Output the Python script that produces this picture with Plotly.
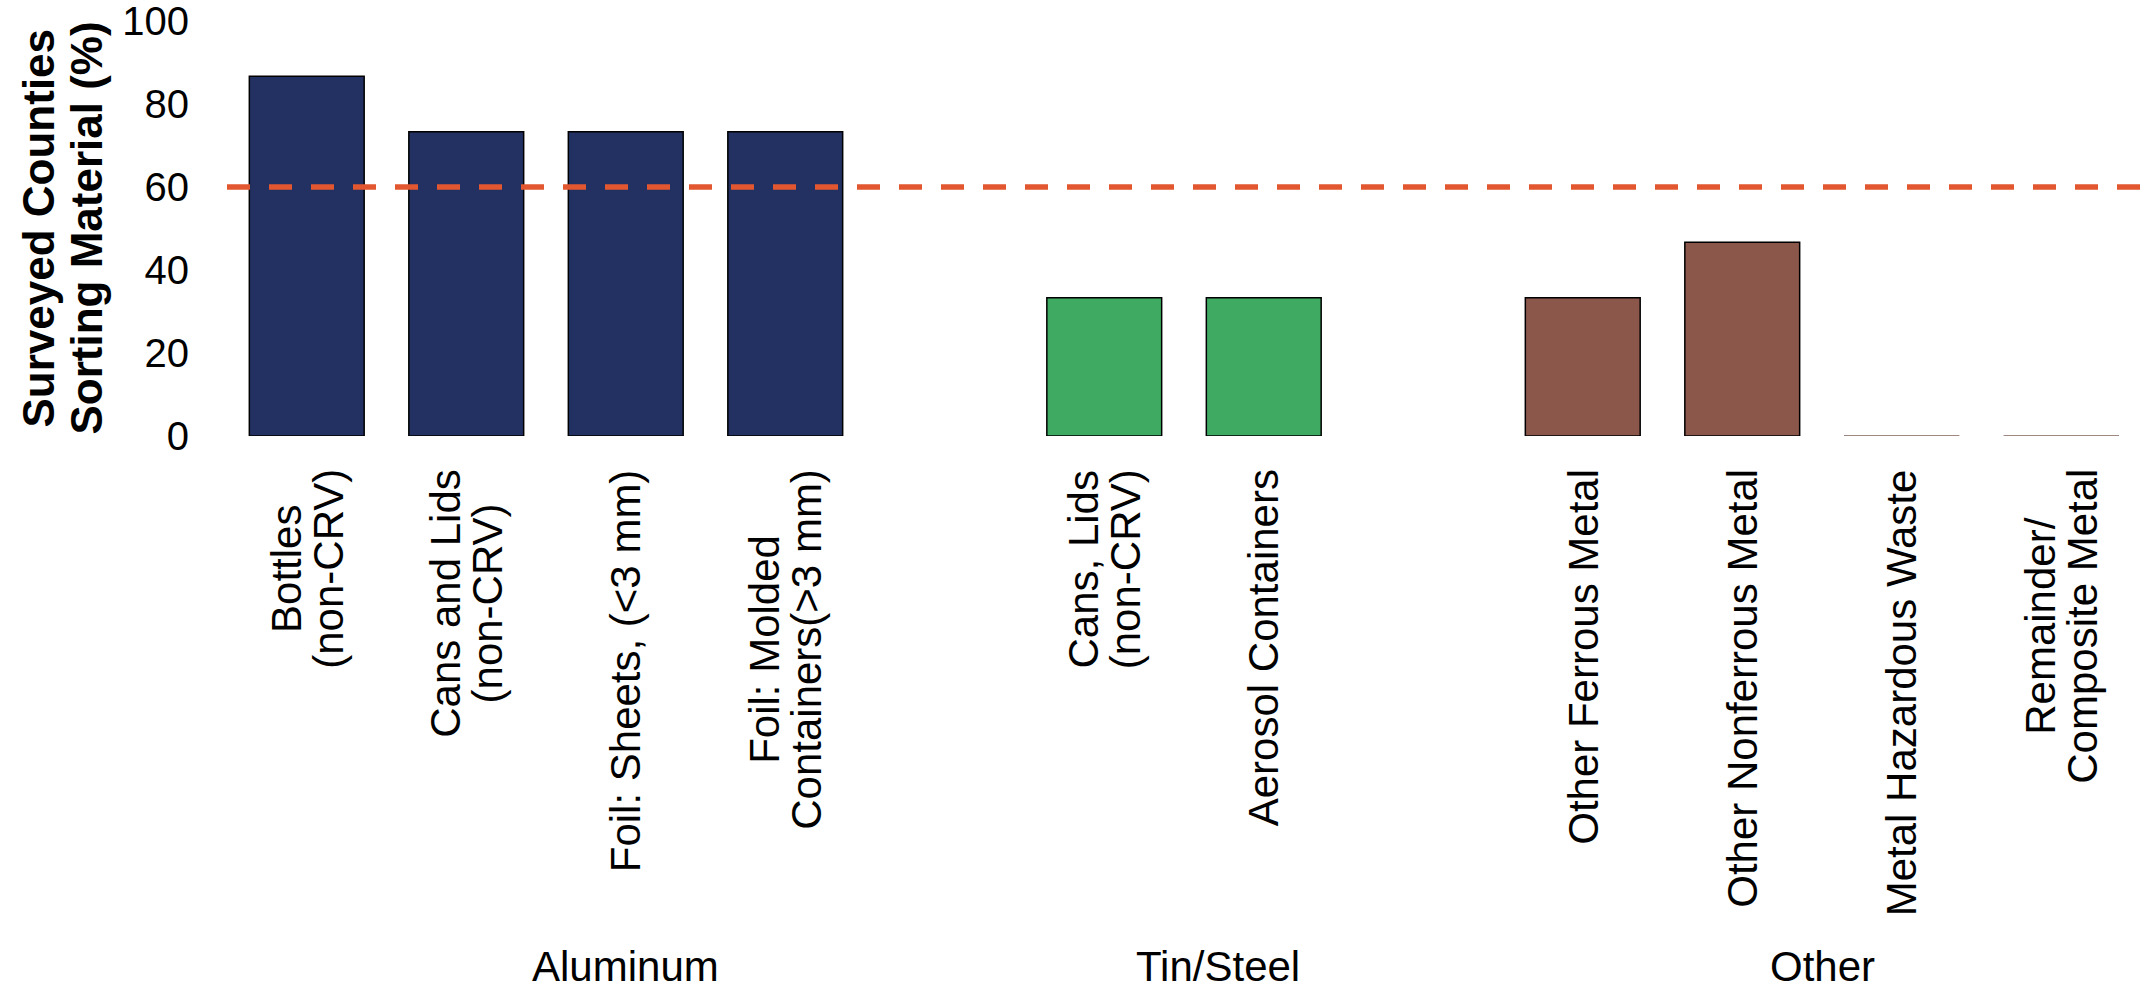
import plotly.graph_objects as go

# ---------------- data ----------------
groups = ["Aluminum", "Tin/Steel", "Other"]
aluminum_labels = [["Bottles", "(non-CRV)"], ["Cans and Lids", "(non-CRV)"],
                   ["Foil: Sheets, (&lt;3 mm)"], ["Foil: Molded", "Containers(&gt;3 mm)"]]
aluminum_values = [86.7, 73.3, 73.3, 73.3]
tin_labels = [["Cans, Lids", "(non-CRV)"], ["Aerosol Containers"]]
tin_values = [33.3, 33.3]
other_labels = [["Other Ferrous Metal"], ["Other Nonferrous Metal"],
                ["Metal Hazardous Waste"], ["Remainder/", "Composite Metal"]]
other_values = [33.3, 46.7, 0, 0]
threshold = 60
y_ticks = [0, 20, 40, 60, 80, 100]
y_title_lines = ["Surveyed Counties", "Sorting Material (%)"]

# ---------------- style ----------------
group_colors = ["#223161", "#3EAA62", "#8B574B"]
group_label_x = [2.0, 5.71, 9.5]   # text placement (data units)
FONT = "Liberation Sans, Arial, sans-serif"
W, H = 2141, 994
ML, MR, MT, MB = 227, 0, 21, 558
BAR_W = 0.72
LABEL_SIZE = 42
LINE_PITCH = 42  # px between label lines

group_labels = [aluminum_labels, tin_labels, other_labels]
group_values = [aluminum_values, tin_values, other_values]

xs, ys, labels, colors = [], [], [], []
pos = 0
for gi, (labs, vals) in enumerate(zip(group_labels, group_values)):
    for lab, v in zip(labs, vals):
        xs.append(pos)
        ys.append(v)
        labels.append(lab)
        colors.append(group_colors[gi])
        pos += 1
    pos += 1  # gap between groups

fig = go.Figure()
fig.add_trace(go.Bar(
    x=xs, y=ys, width=BAR_W,
    marker=dict(color=colors, line=dict(color="black", width=1.5)),
    showlegend=False, hoverinfo="skip"))

# zero-valued bars render as a thin outline at the baseline
zx, zy = [], []
for x, v, c in zip(xs, ys, colors):
    if v == 0:
        zx += [x - BAR_W / 2, x + BAR_W / 2, None]
        zy += [v, v, None]
fig.add_trace(go.Scatter(x=zx, y=zy, mode="lines",
                         line=dict(color="#9E8880", width=2),
                         cliponaxis=False, showlegend=False, hoverinfo="skip"))

fig.add_shape(type="line", xref="paper", x0=0, x1=1, yref="y",
              y0=threshold, y1=threshold,
              line=dict(color="#E2572F", width=5.3, dash="23px,19px"))

# category labels (rotated, centered lines, tight line spacing)
base_size = LINE_PITCH / 1.3
for x, lab in zip(xs, labels):
    txt = "<br>".join(f"<span style='font-size:{LABEL_SIZE}px'>{ln}</span>" for ln in lab)
    fig.add_annotation(x=x, xref="x", y=0, yref="paper", yshift=-31,
                       text=txt, textangle=-90, showarrow=False,
                       xanchor="center", yanchor="top", align="center",
                       font=dict(family=FONT, size=base_size, color="black"))

# group labels
for gx, g in zip(group_label_x, groups):
    fig.add_annotation(x=gx, xref="x", y=0, yref="paper", yshift=-(H - MB - MT - 2) - 0 if False else -(H - (H - MB) - 2),
                       text=g, showarrow=False, xanchor="center",
                       yanchor="bottom",
                       font=dict(family=FONT, size=42, color="black"))

# y-axis title (two lines)
for i, line in enumerate(y_title_lines):
    fig.add_annotation(x=0, xref="paper", xshift=-(ML - 38 - 48 * i),
                       y=0.5, yref="paper", text="<b>" + line + "</b>",
                       textangle=-90, showarrow=False,
                       xanchor="center", yanchor="middle",
                       font=dict(family=FONT, size=44, color="black"))

fig.update_layout(
    width=W, height=H,
    margin=dict(l=ML, r=MR, t=MT, b=MB, pad=0),
    plot_bgcolor="white", paper_bgcolor="white",
    bargap=0.28,
    xaxis=dict(range=[-0.5, pos - 1.5], showticklabels=False, showgrid=False,
               zeroline=False, showline=False, ticks=""),
    yaxis=dict(range=[0, 100], tickvals=y_ticks, showgrid=False,
               zeroline=False, showline=False, ticks="",
               ticklabelstandoff=37, ticklabeloverflow="allow",
               tickfont=dict(family=FONT, size=40, color="black")),
)

fig.write_html("out.html",
               config={"displayModeBar": False},
               post_script="document.body.style.margin='0px';"
                           "document.body.style.overflow='hidden';")
